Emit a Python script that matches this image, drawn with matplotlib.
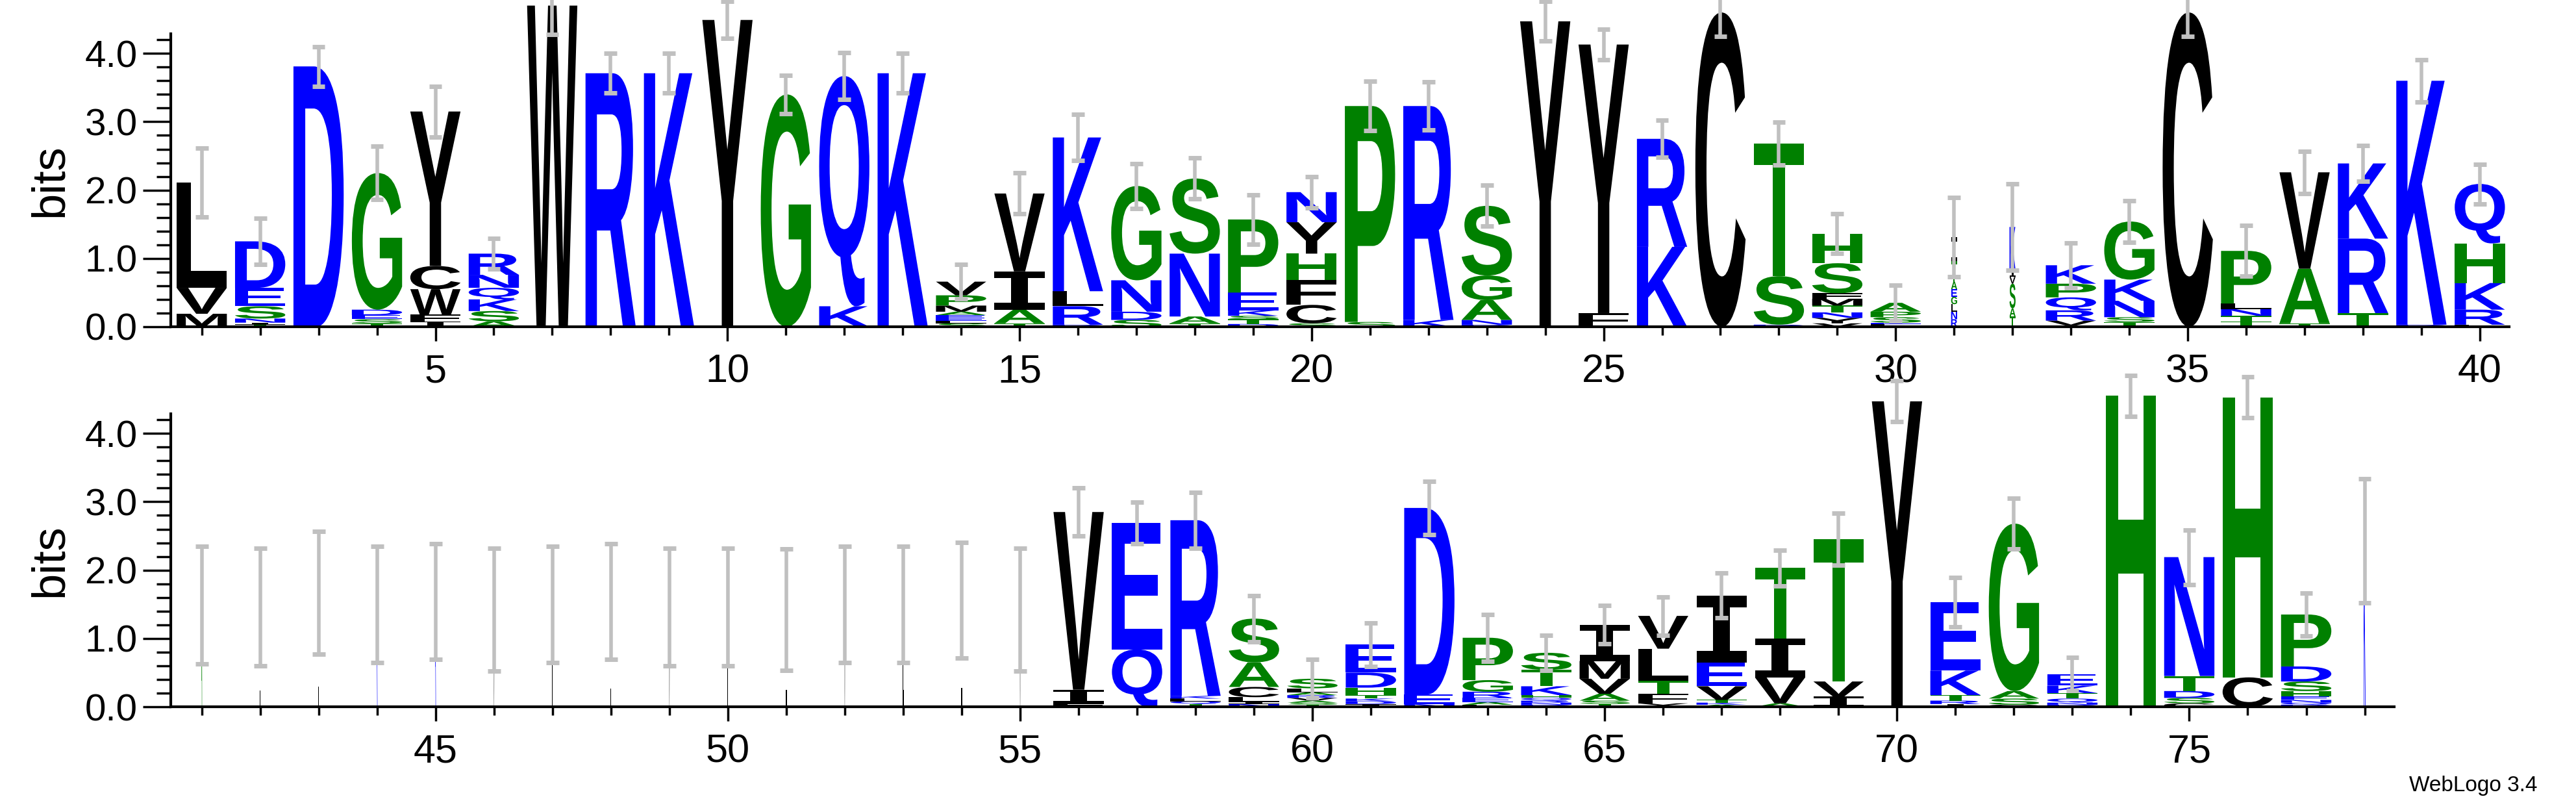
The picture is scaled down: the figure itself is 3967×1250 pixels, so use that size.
import matplotlib
matplotlib.use("Agg")
import matplotlib.pyplot as plt
from matplotlib.textpath import TextPath
from matplotlib.patches import PathPatch
from matplotlib.font_manager import FontProperties
from matplotlib.transforms import Affine2D

# ---- data: per position, letters bottom->top and their heights (bits) ----
positions = list(range(1, 79))
stack_letters = [
    "MVL", "TINSED", "D", "TSEDG", "IFWCY", "ASKQNR", "W", "R", "K", "Y",
    "G", "KQ", "K", "SLEEAMPV", "TAIV", "DRLK", "SDNG", "TANS", "DTSKEP", "SCFHYN",
    "SP", "KR", "DNAGS", "Y", "FY", "KR", "C", "DST", "VYNTMFSH", "DLESPA",
    "RNLGEATI", "TASVIK", "TVRQPK", "TSNKG", "C", "DTTNLP", "TAV", "TRK", "DK", "LRKHQ",
    "A", "L", "I", "K", "R", "V", "L", "I", "V", "L",
    "I", "V", "L", "I", "V", "FIV", "QE", "TQLKR", "NILCAS", "TSAVRALS",
    "IDKTHDE", "NED", "LAERGP", "DNRQHKTS", "TSAVMI", "YFTLV", "AKTVEI", "AVIT", "IVT", "Y",
    "TIRTKE", "CSAG", "DNQTKE", "H", "CSDTN", "CH", "DQNEHSDP", "K",
]
stack_heights = [
    [0.19, 0.38, 1.54], [0.03, 0.03, 0.06, 0.18, 0.27, 0.68], [3.81], [0.05, 0.06, 0.06, 0.08, 2.0],
    [0.08, 0.1, 0.37, 0.34, 2.26], [0.08, 0.15, 0.17, 0.17, 0.19, 0.31], [4.7], [3.71], [3.71], [4.49],
    [3.4], [0.3, 3.37], [3.71], [0.05, 0.04, 0.04, 0.04, 0.05, 0.09, 0.15, 0.2], [0.05, 0.2, 0.56, 1.14],
    [0.03, 0.27, 0.22, 2.25], [0.1, 0.12, 0.46, 1.38], [0.05, 0.1, 0.92, 1.1], [0.04, 0.07, 0.05, 0.08, 0.26, 1.07],
    [0.05, 0.27, 0.36, 0.39, 0.46, 0.44],
    [0.07, 3.16], [0.1, 3.13], [0.03, 0.07, 0.29, 0.36, 1.02], [4.47], [0.2, 3.93], [1.17, 1.58], [4.6],
    [0.03, 0.71, 1.94], [0.05, 0.08, 0.08, 0.1, 0.1, 0.08, 0.44, 0.43], [0.02, 0.02, 0.02, 0.08, 0.08, 0.13],
    [0.11, 0.11, 0.11, 0.11, 0.11, 0.11, 0.3, 0.35], [0.15, 0.12, 0.36, 0.1, 0.1, 0.63],
    [0.02, 0.07, 0.15, 0.19, 0.2, 0.27], [0.07, 0.07, 0.24, 0.31, 0.85], [4.6], [0.02, 0.06, 0.08, 0.1, 0.08, 0.77],
    [0.05, 0.8, 1.41], [0.2, 1.09, 1.1], [0.03, 3.57], [0.03, 0.22, 0.39, 0.58, 0.87],
    [1.49], [1.46], [1.67], [1.5], [1.54], [1.42], [1.5], [1.54], [1.46], [1.46],
    [1.42], [1.5], [1.5], [1.56], [1.42], [0.05, 0.2, 2.6], [0.84, 1.85], [0.04, 0.04, 0.04, 0.04, 2.57],
    [0.04, 0.03, 0.07, 0.15, 0.36, 0.64], [0.03, 0.03, 0.03, 0.04, 0.04, 0.04, 0.06, 0.14],
    [0.04, 0.04, 0.04, 0.05, 0.11, 0.22, 0.41], [0.04, 0.14, 2.73], [0.03, 0.04, 0.06, 0.09, 0.17, 0.62],
    [0.03, 0.03, 0.03, 0.04, 0.04, 0.13, 0.24, 0.25], [0.04, 0.05, 0.1, 0.22, 0.26, 0.53],
    [0.05, 0.14, 0.19, 0.47, 0.48], [0.03, 0.03, 0.04, 0.2, 0.35, 0.98], [0.05, 0.38, 0.57, 1.03],
    [0.15, 0.22, 2.08], [4.47], [0.02, 0.02, 0.05, 0.08, 0.36, 1.0], [0.03, 0.09, 0.11, 2.45],
    [0.03, 0.03, 0.06, 0.08, 0.11, 0.17], [4.55], [0.05, 0.08, 0.1, 0.22, 1.74], [0.43, 4.1],
    [0.03, 0.03, 0.04, 0.05, 0.08, 0.14, 0.22, 0.76], [2.43],
]
error_half = [
    0.5, 0.34, 0.29, 0.39, 0.37, 0.22, 0.42, 0.29, 0.29, 0.27,
    0.28, 0.34, 0.29, 0.25, 0.3, 0.34, 0.33, 0.3, 0.36, 0.23,
    0.36, 0.35, 0.3, 0.29, 0.22, 0.27, 0.35, 0.31, 0.29, 0.26,
    0.58, 0.63, 0.33, 0.3, 0.35, 0.37, 0.31, 0.26, 0.31, 0.29,
    0.86, 0.86, 0.9, 0.85, 0.85, 0.9, 0.85, 0.85, 0.86, 0.86,
    0.89, 0.85, 0.85, 0.85, 0.9, 0.35, 0.3, 0.41, 0.34, 0.28,
    0.32, 0.39, 0.34, 0.26, 0.28, 0.28, 0.33, 0.26, 0.38, 0.3,
    0.36, 0.37, 0.24, 0.3, 0.4, 0.3, 0.31, 0.91,
]
# relative stack width (occupancy)
stack_width = [1.0] * 30 + [0.12, 0.12] + [1.0] * 8 + [0.015] * 15 + [1.0] * 22 + [0.04]

colors = {}
for c in "RKDENQ":
    colors[c] = "#0000ff"
for c in "SGHTAP":
    colors[c] = "#008000"
for c in "YVMCLFIW":
    colors[c] = "#000000"

fp = FontProperties(family="Liberation Sans", weight="bold")
fp_i = FontProperties(family="DejaVu Sans Mono", weight="bold")
glyphs = {}


def glyph(ch):
    if ch not in glyphs:
        p = TextPath((0, 0), ch, size=1, prop=fp_i if ch == "I" else fp)
        glyphs[ch] = (p, p.get_extents())
    return glyphs[ch]


fig = plt.figure(figsize=(39.67, 12.5), dpi=100)
ax1 = fig.add_axes([0.0663, 0.5976, 0.974 - 0.0663, 0.361])
ax2 = fig.add_axes([0.0663, 0.1296, 0.863, 0.361])
rows = [(ax1, 0, 40, (0.47, 40.5)), (ax2, 40, 78, (40.47, 78.5))]

for ax, i0, i1, xl in rows:
    for i in range(i0, i1):
        x = positions[i]
        w = 0.86 * stack_width[i]
        y = 0.0
        for ch, h in zip(stack_letters[i], stack_heights[i]):
            p, bb = glyph(ch)
            tr = (Affine2D().translate(-bb.x0, -bb.y0)
                  .scale(w / bb.width, h / bb.height)
                  .translate(x - w / 2, y))
            patch = PathPatch(tr.transform_path(p), facecolor=colors[ch],
                              edgecolor="none", transform=ax.transData, clip_on=False)
            ax.add_patch(patch)
            y += h
        e = error_half[i]
        ax.plot([x, x], [y - e, y + e], color="#c0c0c0", lw=4, clip_on=False,
                solid_capstyle="butt", zorder=5)
        for yy in (y - e, y + e):
            ax.plot([x - 0.11, x + 0.11], [yy, yy], color="#c0c0c0", lw=5,
                    clip_on=False, solid_capstyle="butt", zorder=5)
    ax.set_xlim(*xl)
    ax.set_ylim(0, 4.29)
    for s in ("top", "right"):
        ax.spines[s].set_visible(False)
    for s in ("left", "bottom"):
        ax.spines[s].set_linewidth(3)
    ax.set_yticks([0, 1, 2, 3, 4])
    ax.set_yticklabels(["0.0", "1.0", "2.0", "3.0", "4.0"], fontsize=42, family="Liberation Sans")
    ax.set_yticks([k * 0.2 for k in range(22)], minor=True)
    ax.set_xticks(positions[i0:i1], minor=True)
    major = [p for p in positions[i0:i1] if p % 5 == 0]
    ax.set_xticks(major)
    ax.set_xticklabels([str(p) for p in major], fontsize=44, family="Liberation Sans")
    ax.tick_params(axis="y", which="major", length=31, width=2.5, pad=6)
    ax.tick_params(axis="y", which="minor", length=16, width=2.5)
    ax.tick_params(axis="x", which="major", length=16, width=2.5, pad=14)
    ax.tick_params(axis="x", which="minor", length=9, width=2.5)
    ax.set_ylabel("bits", fontsize=52, family="Liberation Sans", labelpad=14)

fig.text(0.985, 0.02, "WebLogo 3.4", ha="right", va="bottom", fontsize=24,
         family="Liberation Sans")
fig.savefig("out.png", dpi=100)
